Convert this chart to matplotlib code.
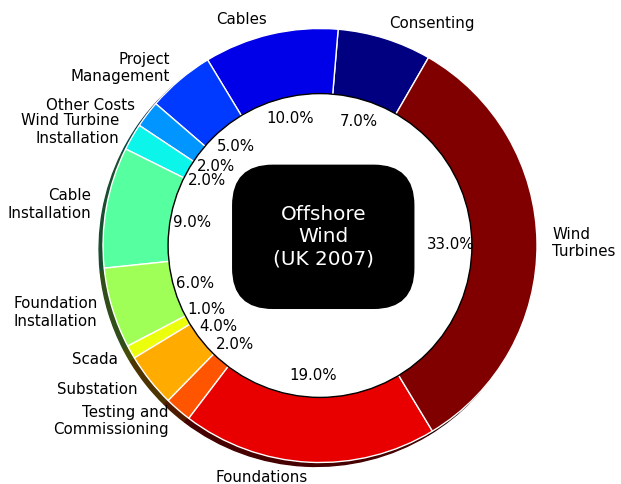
import matplotlib
matplotlib.use('Agg')
from matplotlib import pyplot as plt
import numpy as np

# Cost breakdown (counterclockwise from the top right)
labels = ['Consenting', 'Cables', 'Project\nManagement', 'Other Costs',
          'Wind Turbine\nInstallation', 'Cable\nInstallation',
          'Foundation\nInstallation', 'Scada', 'Substation',
          'Testing and\nCommissioning', 'Foundations', 'Wind\nTurbines']
shares = [7, 10, 5, 2, 2, 9, 6, 1, 4, 2, 19, 33]

colors = plt.cm.jet(np.linspace(0, 1, len(shares)))

fig = plt.figure(figsize=(6.21, 4.84), dpi=100)
ax = fig.add_axes([0, 0, 1, 1])

ax.pie(shares, labels=labels, colors=colors, autopct='%1.1f%%',
       startangle=60, labeldistance=1.07,
       shadow={'ox': -0.013, 'oy': -0.013, 'shade': 0.7, 'alpha': 1.0},
       wedgeprops=dict(edgecolor='white', linewidth=1),
       textprops=dict(fontsize=10.8))

# white hole in the middle
hole = plt.Circle((0, 0), 0.7, facecolor='white', edgecolor='black', linewidth=1)
ax.add_patch(hole)

ax.text(0.015, 0.04, 'Offshore\nWind\n(UK 2007)', ha='center', va='center',
        color='white', fontsize=14.4, zorder=4,
        bbox=dict(boxstyle='round,pad=2.0', facecolor='black', edgecolor='black'))

# place the pie (radius 217 px, centre at 320, 245.5 from top)
r = 217.0
ax.set_aspect('auto')
ax.set_xlim(-320 / r, 301 / r)
ax.set_ylim(-(484 - 245.5) / r, 245.5 / r)
ax.axis('off')

fig.savefig('out.png', dpi=100)
